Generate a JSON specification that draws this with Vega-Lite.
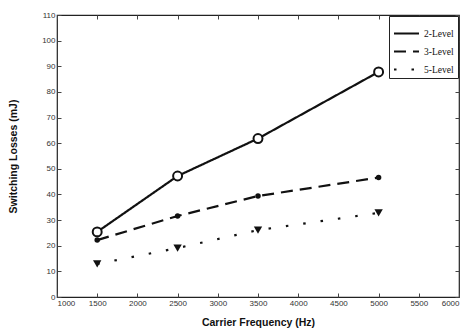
{
  "$schema": "https://vega.github.io/schema/vega-lite/v6.json",
  "width": 402,
  "height": 282,
  "autosize": "none",
  "padding": {"left": 57, "top": 15, "right": 8, "bottom": 34},
  "background": "white",
  "config": {
    "view": {"stroke": "#222", "strokeWidth": 1.2},
    "axis": {
      "grid": false,
      "domain": false,
      "tickColor": "#444",
      "tickSize": -4,
      "format": "d",
      "labelFont": "Liberation Sans",
      "labelFontSize": 8,
      "labelColor": "#333",
      "titleFont": "Liberation Sans",
      "titleFontWeight": "bold",
      "titleFontSize": 10.5,
      "titleColor": "#111"
    }
  },
  "data": {
    "values": [
      {"freq": 1500, "loss": 25.4, "series": "2-Level"},
      {"freq": 2500, "loss": 47.2, "series": "2-Level"},
      {"freq": 3500, "loss": 61.8, "series": "2-Level"},
      {"freq": 5000, "loss": 87.8, "series": "2-Level"},
      {"freq": 1500, "loss": 22.2, "series": "3-Level"},
      {"freq": 2500, "loss": 31.6, "series": "3-Level"},
      {"freq": 3500, "loss": 39.4, "series": "3-Level"},
      {"freq": 5000, "loss": 46.6, "series": "3-Level"},
      {"freq": 1500, "loss": 12.9, "series": "5-Level"},
      {"freq": 2500, "loss": 19.1, "series": "5-Level"},
      {"freq": 3500, "loss": 26.1, "series": "5-Level"},
      {"freq": 5000, "loss": 32.8, "series": "5-Level"}
    ]
  },
  "layer": [
    {
      "mark": {"type": "line", "color": "#111", "strokeWidth": 2.2},
      "encoding": {
        "x": {
          "field": "freq", "type": "quantitative",
          "scale": {"domain": [1000, 6000], "nice": false},
          "axis": {"values": [1000,1500,2000,2500,3000,3500,4000,4500,5000,5500,6000], "title": "Carrier Frequency (Hz)", "labelPadding": 6, "titlePadding": 10}
        },
        "y": {
          "field": "loss", "type": "quantitative",
          "scale": {"domain": [0, 110], "nice": false},
          "axis": {"values": [0,10,20,30,40,50,60,70,80,90,100,110], "title": "Switching Losses (mJ)", "labelPadding": 6, "titlePadding": 23}
        },
        "strokeDash": {
          "field": "series", "type": "nominal",
          "scale": {"domain": ["2-Level", "3-Level", "5-Level"], "range": [[1, 0], [12, 7], [2.5, 15]]},
          "legend": {
            "title": null,
            "orient": "top-right",
            "offset": 1,
            "padding": 4,
            "rowPadding": 0,
            "strokeColor": "#222",
            "fillColor": "white",
            "symbolSize": 625,
            "symbolStrokeWidth": 2,
            "symbolStrokeColor": "#111",
            "labelFont": "Liberation Serif",
            "labelFontSize": 9.5,
            "labelColor": "#111",
            "labelOffset": 4
          }
        }
      }
    },
    {
      "transform": [{"filter": "datum.series === '2-Level'"}],
      "mark": {"type": "point", "shape": "circle", "size": 80, "filled": false, "fill": "white", "stroke": "#111", "strokeWidth": 2, "opacity": 1},
      "encoding": {
        "x": {"field": "freq", "type": "quantitative", "axis": {"orient": "top", "labels": true, "labelExpr": "''", "title": null, "values": [1000,1500,2000,2500,3000,3500,4000,4500,5000,5500,6000]}},
        "y": {"field": "loss", "type": "quantitative", "axis": {"orient": "right", "labels": true, "labelExpr": "''", "title": null, "values": [0,10,20,30,40,50,60,70,80,90,100,110]}}
      }
    },
    {
      "transform": [{"filter": "datum.series === '3-Level'"}],
      "mark": {"type": "point", "shape": "circle", "size": 30, "filled": true, "color": "#111", "opacity": 1},
      "encoding": {
        "x": {"field": "freq", "type": "quantitative", "axis": null},
        "y": {"field": "loss", "type": "quantitative", "axis": null}
      }
    },
    {
      "transform": [{"filter": "datum.series === '5-Level'"}],
      "mark": {"type": "point", "shape": "triangle-down", "size": 70, "filled": true, "color": "#111", "opacity": 1},
      "encoding": {
        "x": {"field": "freq", "type": "quantitative", "axis": null},
        "y": {"field": "loss", "type": "quantitative", "axis": null}
      }
    }
  ],
  "resolve": {"axis": {"x": "independent", "y": "independent"}}
}
